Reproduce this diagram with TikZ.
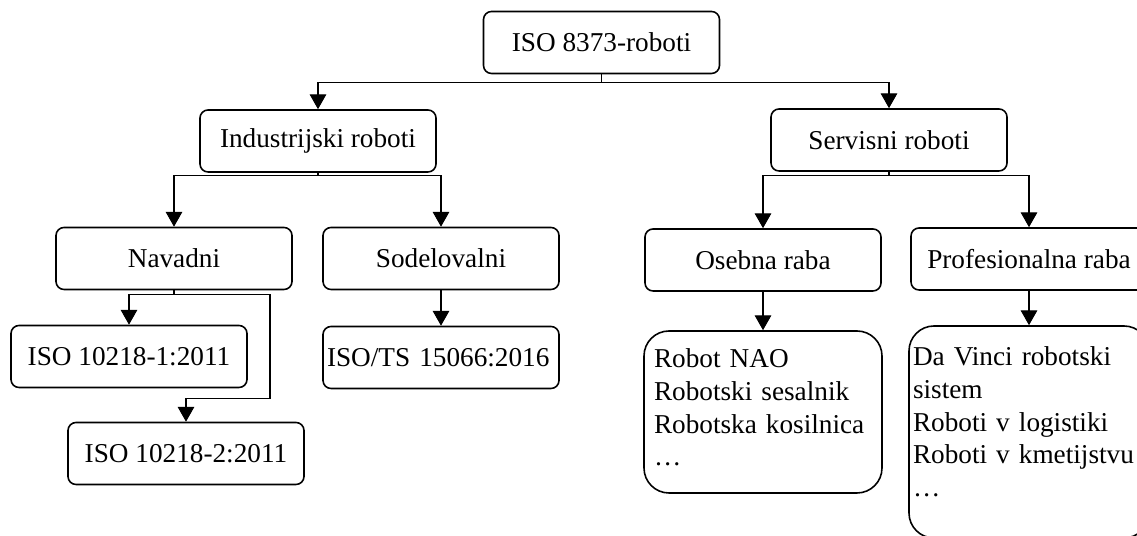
\documentclass[tikz,border=0pt]{standalone}
\usepackage{fontspec}
\setmainfont{Liberation Serif}
\usetikzlibrary{arrows.meta}
\begin{document}
\begin{tikzpicture}
            \tikzstyle{every node}=[font=\fontsize{15.5pt}{18.7pt}\selectfont]
            \tikzstyle{box}=[draw, line width=0.9pt, rounded corners=0.16cm, minimum width=4.72cm, minimum height=1.24cm, inner sep=0pt, align=center]
            \tikzstyle{listbox}=[draw, line width=0.9pt, rounded corners=0.5cm, align=left, inner ysep=0pt]
            \tikzstyle{arr}=[line width=0.6pt, -{Triangle[length=8.5pt,width=9.5pt]}]
            \useasboundingbox (0,0) rectangle (22.74,10.72);
            % top levels
            \node [box] (root) at (12.03,9.87) {ISO 8373-roboti};
            \node [box] (ind) at (6.36,7.90) {Industrijski roboti};
            \node [box] (serv) at (17.78,7.92) {Servisni roboti};
            \node [box] (nav) at (3.48,5.55) {Navadni};
            \node [box] (sod) at (8.82,5.55) {Sodelovalni};
            \node [box] (oseb) at (15.26,5.52) {Osebna raba};
            \node [box] (prof) at (20.58,5.54) {Profesionalna raba};
            % standards and examples
            \node [box] (iso1) at (2.58,3.59) {ISO 10218-1:2011};
            \node [box] (iso2) at (3.72,1.65) {ISO 10218-2:2011};
            \node [box, align=left, text width=4.56cm, inner xsep=0.08cm, minimum width=0pt] (isots) at (8.82,3.57) {ISO/TS 15066:2016};
            \node [listbox, text width=4.36cm, inner xsep=0.2cm, minimum height=3.24cm, text depth=61.6pt] (olist) at (15.26,2.48)
                {Robot NAO\\ Robotski sesalnik\\ Robotska kosilnica\\ \ldots};
            \node [listbox, text width=4.64cm, inner xsep=0.08cm, minimum height=4.24cm, text depth=86.6pt] (plist) at (20.58,2.08)
                {Da Vinci robotski\\ sistem\\ Roboti v logistiki\\ Roboti v kmetijstvu\\ \ldots};
            % connectors
            \draw [arr] (root.south) -- ++(0,-0.16) -| (ind.north);
            \draw [arr] (root.south) -- ++(0,-0.16) -| (serv.north);
            \draw [arr] (ind.south) -- ++(0,-0.06) -| (nav.north);
            \draw [arr] (ind.south) -- ++(0,-0.06) -| (sod.north);
            \draw [arr] (serv.south) -- ++(0,-0.08) -| (oseb.north);
            \draw [arr] (serv.south) -- ++(0,-0.08) -| (prof.north);
            \draw [arr] (nav.south) -- ++(0,-0.08) -| (iso1.north);
            \draw [arr] (nav.south) -- ++(0,-0.08) -| ++(1.92,-2.08) -| (iso2.north);
            \draw [arr] (sod.south) -- (isots.north);
            \draw [arr] (oseb.south) -- (olist.north);
            \draw [arr] (prof.south) -- (plist.north);
        \end{tikzpicture}
\end{document}
